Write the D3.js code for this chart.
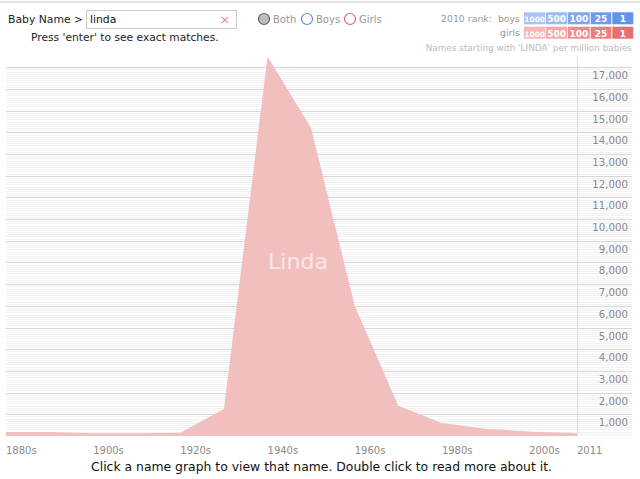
<!DOCTYPE html>
<html>
<head>
<meta charset="utf-8">
<script src="https://cdn.jsdelivr.net/npm/d3@7"></script>
<style>
  html, body { margin: 0; padding: 0; background: #fff; }
  svg { display: block; font-family: "DejaVu Sans", Verdana, sans-serif; }
</style>
</head>
<body>
<svg id="chart" width="640" height="479"></svg>
<script>
// ---- data ----
const years = [1880, 1890, 1900, 1910, 1920, 1930, 1940, 1950, 1960, 1970, 1980, 1990, 2000, 2010, 2011];
const perMillion = [180, 180, 130, 130, 150, 1250, 17500, 14200, 6000, 1400, 600, 330, 210, 140, 120];
const decadeLabels = ["1880s", "1900s", "1920s", "1940s", "1960s", "1980s", "2000s", "2011"];
const decadeYears = [1880, 1900, 1920, 1940, 1960, 1980, 2000, 2011];
const yTicks = [1000, 2000, 3000, 4000, 5000, 6000, 7000, 8000, 9000, 10000, 11000, 12000, 13000, 14000, 15000, 16000, 17000];
const rankLevels = ["1000", "500", "100", "25", "1"];
const boysColors = ["#a9c4f2", "#9bbaf0", "#7ea7ec", "#6f9cea", "#6193e8"];
const girlsColors = ["#f5b7b7", "#f2a9a9", "#ee8d8d", "#eb7f7f", "#e86f6f"];
const nameLabel = "Linda";

const svg = d3.select("#chart");

// ---- scales ----
const x = d3.scaleLinear().domain([1880, 2011]).range([6, 577]);
const y = d3.scaleLinear().domain([0, 17000]).range([436, 67.3]);

// top band
svg.append("rect").attr("x", 0).attr("y", 1).attr("width", 640).attr("height", 2).attr("fill", "#e2e2e2");

// ---- gridlines ----
const minor = d3.range(100, 17001, 100).filter(v => v % 1000 !== 0);
svg.append("g").selectAll("line").data(minor).join("line")
  .attr("x1", 6).attr("x2", 632)
  .attr("y1", d => Math.round(y(d)) + 0.5).attr("y2", d => Math.round(y(d)) + 0.5)
  .attr("stroke", "#f2f2f2").attr("stroke-width", 1);

svg.append("g").selectAll("line").data(yTicks).join("line")
  .attr("x1", 6).attr("x2", 632)
  .attr("y1", d => Math.round(y(d)) + 0.5).attr("y2", d => Math.round(y(d)) + 0.5)
  .attr("stroke", "#d6d6d6").attr("stroke-width", 1);

// vertical divider
svg.append("line").attr("x1", 577.5).attr("x2", 577.5).attr("y1", 57).attr("y2", 436)
  .attr("stroke", "#dddddd");

// ---- area ----
const data = years.map((yr, i) => ({ yr, v: perMillion[i] }));
const area = d3.area().x(d => x(d.yr)).y0(y(0)).y1(d => y(d.v));
svg.append("path").datum(data).attr("d", area).attr("fill", "#f2bfbf");

svg.append("text").attr("x", 298).attr("y", 269).attr("text-anchor", "middle")
  .attr("font-size", 22).attr("fill", "#fbe6e6").text(nameLabel);

// ---- y axis labels ----
const fmt = d3.format(",");
svg.append("g").selectAll("text").data(yTicks).join("text")
  .attr("x", 628).attr("y", d => y(d) + 12).attr("text-anchor", "end")
  .attr("font-size", 10.2).attr("fill", "#888").text(d => fmt(d));

// ---- x axis labels ----
svg.append("g").selectAll("text").data(decadeYears).join("text")
  .attr("x", d => x(d)).attr("y", 454)
  .attr("font-size", 10).attr("fill", "#8a8a8a").text((d, i) => decadeLabels[i]);

svg.append("text").attr("x", 321.5).attr("y", 471).attr("text-anchor", "middle")
  .attr("font-size", 12.4).attr("fill", "#111")
  .text("Click a name graph to view that name. Double click to read more about it.");

// ---- header ----
svg.append("text").attr("x", 8).attr("y", 23).attr("font-size", 10.8).attr("fill", "#222").text("Baby Name >");
svg.append("rect").attr("x", 86.5).attr("y", 10.5).attr("width", 150).attr("height", 18)
  .attr("fill", "#fff").attr("stroke", "#ccc");
svg.append("text").attr("x", 90).attr("y", 23).attr("font-size", 10.8).attr("fill", "#111").text("linda");
svg.append("text").attr("x", 225).attr("y", 24).attr("text-anchor", "middle").attr("font-size", 13)
  .attr("fill", "#f08a8a").text("×");
svg.append("text").attr("x", 31).attr("y", 41).attr("font-size", 10.7).attr("fill", "#222").text("Press 'enter' to see exact matches.");

// radio buttons
const radios = [
  { cx: 264, label: "Both", stroke: "#666", fill: "#bbb" },
  { cx: 307, label: "Boys", stroke: "#5b8fe6", fill: "#fff" },
  { cx: 350, label: "Girls", stroke: "#e06a6a", fill: "#fff" }
];
const rg = svg.append("g");
rg.selectAll("circle").data(radios).join("circle")
  .attr("cx", d => d.cx).attr("cy", 19).attr("r", 5.5)
  .attr("fill", d => d.fill).attr("stroke", d => d.stroke).attr("stroke-width", 1.2);
rg.selectAll("text").data(radios).join("text")
  .attr("x", d => d.cx + 9).attr("y", 23).attr("font-size", 10).attr("fill", "#999").text(d => d.label);

// rank table
svg.append("text").attr("x", 520).attr("y", 22).attr("text-anchor", "end").attr("font-size", 9.4)
  .attr("fill", "#999").attr("xml:space", "preserve").text("2010 rank:  boys");
svg.append("text").attr("x", 520).attr("y", 36).attr("text-anchor", "end").attr("font-size", 9.4)
  .attr("fill", "#999").text("girls");

const cellX = [524, 546, 568, 590.7, 612.3];
const cellW = [21.3, 21.3, 21.7, 20.6, 21];
[{ yy: 12.3, colors: boysColors }, { yy: 26.7, colors: girlsColors }].forEach(row => {
  const g = svg.append("g");
  g.selectAll("rect").data(rankLevels).join("rect")
    .attr("x", (d, i) => cellX[i]).attr("y", row.yy).attr("width", (d, i) => cellW[i]).attr("height", 12)
    .attr("fill", (d, i) => row.colors[i]);
  g.selectAll("text").data(rankLevels).join("text")
    .attr("x", (d, i) => cellX[i] + cellW[i] / 2).attr("y", row.yy + 9.8).attr("text-anchor", "middle")
    .attr("font-size", d => d.length > 3 ? 7.4 : 9).attr("font-weight", "bold").attr("fill", "#fff")
    .text(d => d);
});

svg.append("text").attr("x", 632).attr("y", 51).attr("text-anchor", "end").attr("font-size", 8.9)
  .attr("fill", "#bbb").text("Names starting with 'LINDA' per million babies");
</script>
</body>
</html>
